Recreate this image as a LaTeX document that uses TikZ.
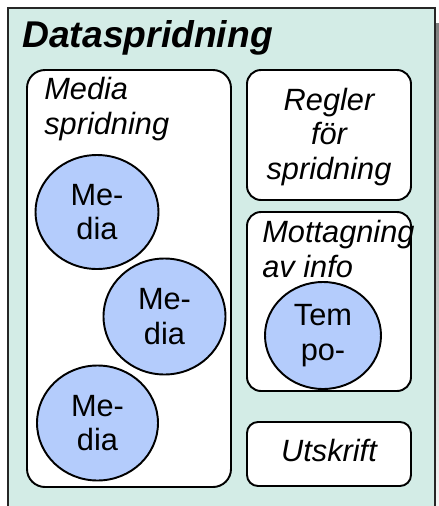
\documentclass[tikz,border=0pt]{standalone}
\usepackage{fontspec}
\setmainfont{Liberation Sans}
\usetikzlibrary{shapes.geometric}

\definecolor{panelbg}{HTML}{D3ECE6}
\definecolor{dotblue}{HTML}{B4CCFC}
\definecolor{shade}{HTML}{A39C89}

\newcommand{\txt}{\fontsize{17.5}{19.6}\selectfont}
\newcommand{\itxt}{\txt\itshape}

\begin{document}
\begin{tikzpicture}[
    outer/.style={rectangle, draw=black!85, line width=1.1pt, fill=panelbg,
        minimum width=8.54cm, minimum height=10.6cm, inner sep=0pt},
    part/.style={rectangle, rounded corners=0.28cm, draw=black, line width=1.1pt,
        fill=white, inner sep=0pt},
    item/.style={ellipse, draw=black, line width=1.1pt, fill=dotblue,
        inner sep=0pt, align=center, font=\txt},
    lbl/.style={font=\itxt, inner sep=0pt}
]
\useasboundingbox (0,0) rectangle (8.78,-10.12);
% Panel with its drop shadow
\fill[shade] (8.70,-0.46) rectangle (8.82,-10.8);
\node[outer] (panel) at (4.43,-5.46) {};
\node[font=\fontsize{21.2}{24}\selectfont\bfseries\itshape, anchor=base west, inner sep=0pt]
  (title) at (0.44,-0.95) {Dataspridning};
% Left part with the three media
\node[part, rounded corners=0.36cm, minimum width=4.08cm, minimum height=8.34cm]
  (spread) at (2.58,-5.57) {};
\node[lbl, align=left, anchor=north west] (spreadlbl) at (0.88,-1.54) {Media\\spridning};
\node[item, minimum width=2.46cm, minimum height=2.28cm] (m1) at (1.94,-4.24) {Me-\\dia};
\node[item, minimum width=2.44cm, minimum height=2.32cm] (m2) at (3.29,-6.33) {Me-\\dia};
\node[item, minimum width=2.42cm, minimum height=2.30cm] (m3) at (1.95,-8.46) {Me-\\dia};
% Right column
\node[part, minimum width=3.28cm, minimum height=2.60cm] (rules) at (6.58,-2.70) {};
\node[lbl, align=center] (ruleslbl) at (6.58,-2.74) {Regler\\för\\spridning};
\node[part, minimum width=3.28cm, minimum height=3.58cm] (recv) at (6.58,-6.03) {};
\node[lbl, align=left, anchor=north west] (recvlbl) at (5.24,-4.40) {Mottagning\\av info};
\node[item, minimum width=2.32cm, minimum height=2.14cm] (tempo) at (6.46,-6.71) {Tem\\po-};
\node[part, rounded corners=0.22cm, minimum width=3.28cm, minimum height=1.28cm]
  (print) at (6.58,-9.08) {};
\node[lbl] (printlbl) at (6.58,-9.02) {Utskrift};
\end{tikzpicture}
\end{document}
